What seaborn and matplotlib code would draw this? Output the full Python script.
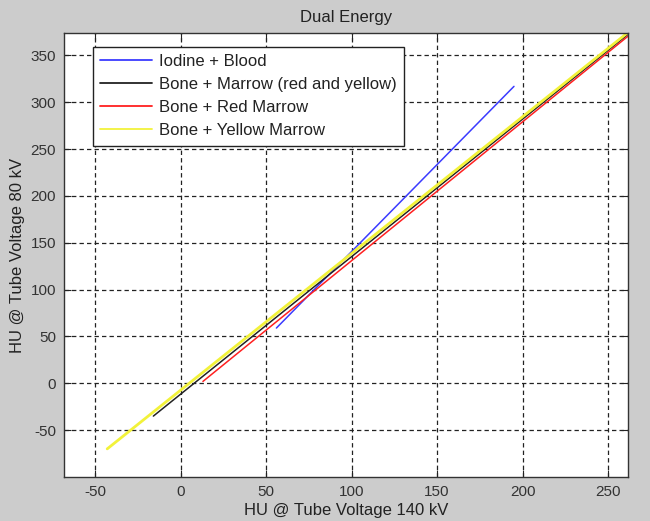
import matplotlib
matplotlib.use("Agg")
import matplotlib.pyplot as plt
import seaborn as sns
import pandas as pd

# ---- data ----
series_names = ["Iodine + Blood",
                "Bone + Marrow (red and yellow)",
                "Bone + Red Marrow",
                "Bone + Yellow Marrow"]
iodine_x = [56, 195]
iodine_y = [59, 317]
marrow_x = [-16, 262]
marrow_y = [-35, 373]
red_x = [13, 262]
red_y = [2, 371]
yellow_x = [-43, 262]
yellow_y = [-70, 375]
series_colors = ["#3b3bff", "#222222", "#ff2020", "#f2f23a"]
x_ticks = [-50, 0, 50, 100, 150, 200, 250]
y_ticks = [-50, 0, 50, 100, 150, 200, 250, 300, 350]

rows = []
for name, xs, ys in zip(series_names,
                        [iodine_x, marrow_x, red_x, yellow_x],
                        [iodine_y, marrow_y, red_y, yellow_y]):
    for xv, yv in zip(xs, ys):
        rows.append({"x": xv, "y": yv, "series": name})
df = pd.DataFrame(rows)

sns.set_style("ticks")
plt.rcParams["font.family"] = ["Liberation Sans", "DejaVu Sans"]
plt.rcParams["axes.unicode_minus"] = False

fig = plt.figure(figsize=(6.5, 5.21), dpi=100, facecolor="#cccccc")
ax = fig.add_axes([0.0992, 0.0845, 0.8677, 0.8522])
ax.set_facecolor("white")

sns.lineplot(data=df, x="x", y="y", hue="series", hue_order=series_names,
             palette=dict(zip(series_names, series_colors)),
             estimator=None, sort=False, ax=ax, linewidth=1.1)
# make yellow a bit thicker like the reference
ax.get_lines()[3].set_linewidth(2.0)

ax.set_xlim(-68, 262)
ax.set_ylim(-100, 374)
ax.set_xticks(x_ticks)
ax.set_yticks(y_ticks)
ax.grid(True, color="#222222", linestyle=(0, (3.5, 2.5)), linewidth=0.9)
ax.set_axisbelow(True)
ax.tick_params(direction="in", top=True, right=True, length=5, width=0.8,
               labelsize=11, colors="#222222", labelcolor="#333333", pad=6)
for s in ax.spines.values():
    s.set_color("#333333")
    s.set_linewidth(1.0)

ax.set_title("Dual Energy", fontsize=12, color="#222222", pad=8)
ax.set_xlabel("HU @ Tube Voltage 140 kV", fontsize=12, color="#222222", labelpad=3)
ax.set_ylabel("HU @ Tube Voltage 80 kV", fontsize=12, color="#222222", labelpad=4)

leg = ax.legend(loc="upper left", bbox_to_anchor=(0.0505, 0.969), fontsize=12,
                frameon=True, fancybox=False, framealpha=1, edgecolor="#222222",
                handlelength=3.1, handletextpad=0.4, labelspacing=0.48,
                borderpad=0.45, borderaxespad=0)
leg.get_frame().set_linewidth(1.0)
for h in leg.get_lines():
    h.set_linewidth(1.3)
for t in leg.get_texts():
    t.set_color("#222222")

fig.savefig("out.png", dpi=100, facecolor=fig.get_facecolor())
